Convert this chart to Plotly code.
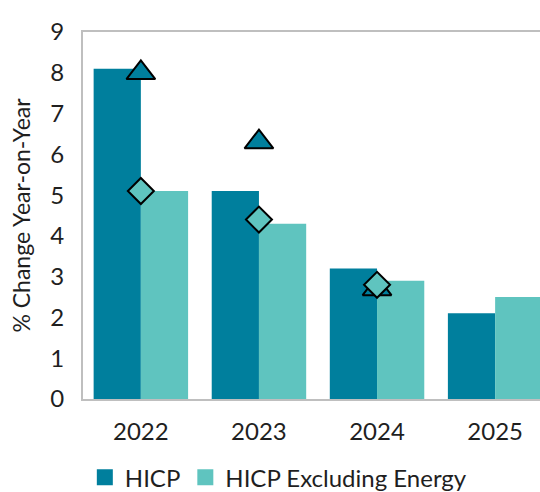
import plotly.graph_objects as go

COLORS = {
    "hicp": "#007F9D",
    "core": "#5FC4BF",
    "axis": "#BFBFBF",
    "text": "#1F1F1F",
}

years = ["2022", "2023", "2024", "2025"]
hicp = [8.1, 5.1, 3.2, 2.1]
hicp_ex_energy = [5.1, 4.3, 2.9, 2.5]

# earlier projections shown as markers
marker_years = ["2022", "2023", "2024"]
hicp_prev = [8.0, 6.3, 2.7]
hicp_ex_energy_prev = [5.1, 4.4, 2.8]

series = [("HICP", hicp, COLORS["hicp"]),
          ("HICP Excluding Energy", hicp_ex_energy, COLORS["core"])]

FONT = "Lato"

fig = go.Figure()
for name, vals, color in series:
    fig.add_trace(go.Bar(
        x=years, y=vals, name=name, showlegend=False,
        marker=dict(color=color, line=dict(width=0)),
    ))
fig.add_trace(go.Scatter(
    x=marker_years, y=hicp_prev, mode="markers", showlegend=False,
    marker=dict(symbol="triangle-up", size=25, color=COLORS["hicp"],
                line=dict(color="black", width=2)),
))
fig.add_trace(go.Scatter(
    x=marker_years, y=hicp_ex_energy_prev, mode="markers", showlegend=False,
    marker=dict(symbol="diamond", size=20, color=COLORS["core"],
                line=dict(color="black", width=2)),
))
# legend proxies: bigger square swatches than the default bar legend symbol
for name, vals, color in series:
    fig.add_trace(go.Scatter(
        x=[years[0]], y=[None], mode="markers", name=name,
        marker=dict(symbol="square", size=16, color=color),
    ))

fig.update_layout(
    width=540, height=492,
    margin=dict(l=83, r=0, t=32, b=93, autoexpand=False),
    paper_bgcolor="white", plot_bgcolor="white",
    font=dict(family=FONT, size=24, color=COLORS["text"]),
    barmode="group", bargap=0.2, bargroupgap=0,
    legend=dict(orientation="h", x=0.004, xanchor="left", y=-0.153, yanchor="top",
                font=dict(size=24), itemwidth=30, traceorder="normal"),
    showlegend=True,
)
fig.update_xaxes(
    type="category", range=[-0.49, 3.38], automargin=False,
    showline=True, linecolor=COLORS["axis"], linewidth=2, mirror=True,
    showgrid=False, ticks="", ticklabelstandoff=10,
)
fig.update_yaxes(
    range=[0, 9], dtick=1, automargin=False,
    showline=True, linecolor=COLORS["axis"], linewidth=2,
    showgrid=False, zeroline=False, ticks="", ticklabelstandoff=12,
    title=dict(text="% Change Year-on-Year", font=dict(size=23), standoff=13),
)

# page body has a default margin; drop it so the figure sits at the window origin
fig.write_html("out.html", config={"displayModeBar": False},
               post_script="document.body.style.margin='0';")
